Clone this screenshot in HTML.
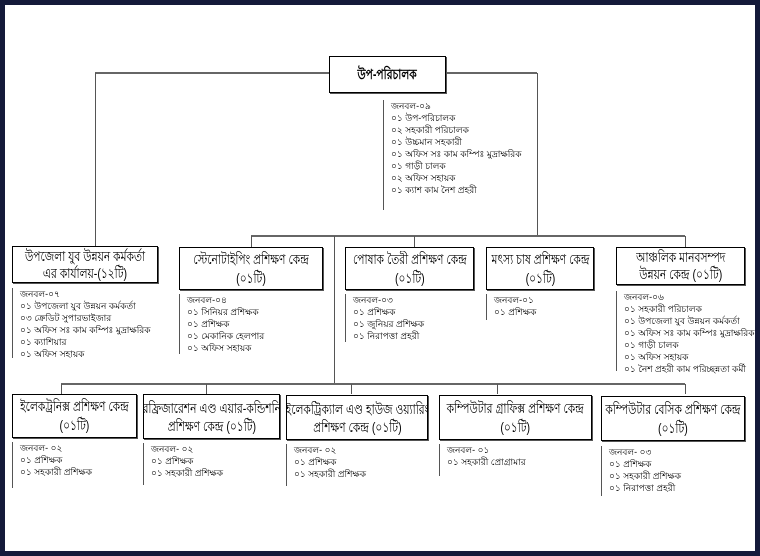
<!DOCTYPE html>
<html><head><meta charset="utf-8">
<style>
body{margin:0;background:#fff;}
#f{position:relative;width:760px;height:556px;box-sizing:border-box;border:5px solid #141a3a;background:#fff;overflow:hidden;font-family:"Liberation Sans","Noto Sans CJK SC",sans-serif;color:#000}
.h{position:absolute;height:0;border-top:2px solid #666}
.v{position:absolute;width:0;border-left:1.5px solid #555}
.b{position:absolute;box-sizing:border-box;border:1px solid #000;box-shadow:1px 1px 0 #555;background:#fff;text-align:center;font-size:14px;line-height:19px;display:flex;align-items:center;justify-content:center;white-space:nowrap;overflow:hidden}
.b span{display:inline-block;transform:scaleX(.76)}
.t{position:absolute;font-size:9px;line-height:12px;white-space:nowrap;border-left:1px solid #555;padding-left:7px}
</style></head><body>
<div id="f">
<div class="h" style="left:90px;top:67px;width:442px"></div>
<div class="v" style="left:90px;top:68px;height:173px"></div>
<div class="v" style="left:532px;top:68px;height:163px"></div>
<div class="h" style="left:246px;top:230px;width:434px"></div>
<div class="v" style="left:246px;top:231px;height:11px"></div>
<div class="v" style="left:329px;top:231px;height:148px"></div>
<div class="v" style="left:409px;top:231px;height:11px"></div>
<div class="v" style="left:680px;top:231px;height:11px"></div>
<div class="h" style="left:56px;top:378px;width:624px"></div>
<div class="v" style="left:56px;top:379px;height:10px"></div>
<div class="v" style="left:201px;top:379px;height:10px"></div>
<div class="v" style="left:346px;top:379px;height:10px"></div>
<div class="v" style="left:492px;top:379px;height:10px"></div>
<div class="v" style="left:680px;top:379px;height:10px"></div>

<div class="b" style="left:324px;top:51px;width:117px;height:37px;font-weight:bold;font-size:14px"><span>উপ-পরিচালক</span></div>
<div class="t" style="left:378px;top:95px;height:110px">জনবল-০৯<br>০১ উপ-পরিচালক<br>০২ সহকারী পরিচালক<br>০১ উচ্চমান সহকারী<br>০১ অফিস সঃ কাম কম্পিঃ মুদ্রাক্ষরিক<br>০১ গাড়ী চালক<br>০২ অফিস সহায়ক<br>০১ ক্যাশ কাম নৈশ প্রহরী</div>

<div class="b" style="left:7px;top:241px;width:146px;height:37px;line-height:17px"><span>উপজেলা যুব উন্নয়ন কর্মকর্তা<br>এর কার্যালয়-(১২টি)</span></div>
<div class="t" style="left:7px;top:283px;height:70px">জনবল-০৭<br>০১ উপজেলা যুব উন্নয়ন কর্মকর্তা<br>০৩ ক্রেডিট সুপারভাইজার<br>০১ অফিস সঃ কাম কম্পিঃ মুদ্রাক্ষরিক<br>০১ ক্যাশিয়ার<br>০১ অফিস সহায়ক</div>

<div class="b" style="left:174px;top:242px;width:144px;height:43px"><span>স্টেনোটাইপিং প্রশিক্ষণ কেন্দ্র<br>(০১টি)</span></div>
<div class="t" style="left:174px;top:289px;height:60px">জনবল-০৪<br>০১ সিনিয়র প্রশিক্ষক<br>০১ প্রশিক্ষক<br>০১ মেকানিক হেলপার<br>০১ অফিস সহায়ক</div>

<div class="b" style="left:340px;top:242px;width:129px;height:43px"><span>পোষাক তৈরী প্রশিক্ষণ কেন্দ্র<br>(০১টি)</span></div>
<div class="t" style="left:340px;top:289px;height:48px">জনবল-০৩<br>০১ প্রশিক্ষক<br>০১ জুনিয়র প্রশিক্ষক<br>০১ নিরাপত্তা প্রহরী</div>

<div class="b" style="left:481px;top:242px;width:108px;height:43px"><span>মৎস্য চাষ প্রশিক্ষণ কেন্দ্র<br>(০১টি)</span></div>
<div class="t" style="left:481px;top:289px;height:26px">জনবল-০১<br>০১ প্রশিক্ষক</div>

<div class="b" style="left:611px;top:242px;width:129px;height:38px;line-height:17px"><span>আঞ্চলিক মানবসম্পদ<br>উন্নয়ন কেন্দ্র (০১টি)</span></div>
<div class="t" style="left:611px;top:286px;height:80px">জনবল-০৬<br>০১ সহকারী পরিচালক<br>০১ উপজেলা যুব উন্নয়ন কর্মকর্তা<br>০১ অফিস সঃ কাম কম্পিঃ মুদ্রাক্ষরিক<br>০১ গাড়ী চালক<br>০১ অফিস সহায়ক<br>০১ নৈশ প্রহরী কাম পরিচ্ছন্নতা কর্মী</div>

<div class="b" style="left:7px;top:389px;width:125px;height:44px"><span>ইলেকট্রনিক্স প্রশিক্ষণ কেন্দ্র<br>(০১টি)</span></div>
<div class="t" style="left:7px;top:437px;height:46px">জনবল- ০২<br>০১ প্রশিক্ষক<br>০১ সহকারী প্রশিক্ষক</div>

<div class="b" style="left:138px;top:389px;width:137px;height:45px;line-height:18px"><span>রেফ্রিজারেশন এণ্ড এয়ার-কন্ডিশনিং<br>প্রশিক্ষণ কেন্দ্র (০১টি)</span></div>
<div class="t" style="left:138px;top:438px;height:42px">জনবল- ০২<br>০১ প্রশিক্ষক<br>০১ সহকারী প্রশিক্ষক</div>

<div class="b" style="left:281px;top:390px;width:142px;height:45px;line-height:18px"><span>ইলেকট্রিক্যাল এণ্ড হাউজ ওয়্যারিং<br>প্রশিক্ষণ কেন্দ্র (০১টি)</span></div>
<div class="t" style="left:281px;top:439px;height:42px">জনবল- ০২<br>০১ প্রশিক্ষক<br>০১ সহকারী প্রশিক্ষক</div>

<div class="b" style="left:434px;top:390px;width:153px;height:45px"><span>কম্পিউটার গ্রাফিক্স প্রশিক্ষণ কেন্দ্র<br>(০১টি)</span></div>
<div class="t" style="left:434px;top:439px;height:32px">জনবল- ০১<br>০১ সহকারী প্রোগ্রামার</div>

<div class="b" style="left:596px;top:391px;width:144px;height:45px"><span>কম্পিউটার বেসিক প্রশিক্ষণ কেন্দ্র<br>(০১টি)</span></div>
<div class="t" style="left:596px;top:441px;height:50px">জনবল- ০৩<br>০১ প্রশিক্ষক<br>০১ সহকারী প্রশিক্ষক<br>০১ নিরাপত্তা প্রহরী</div>
</div>
</body></html>
